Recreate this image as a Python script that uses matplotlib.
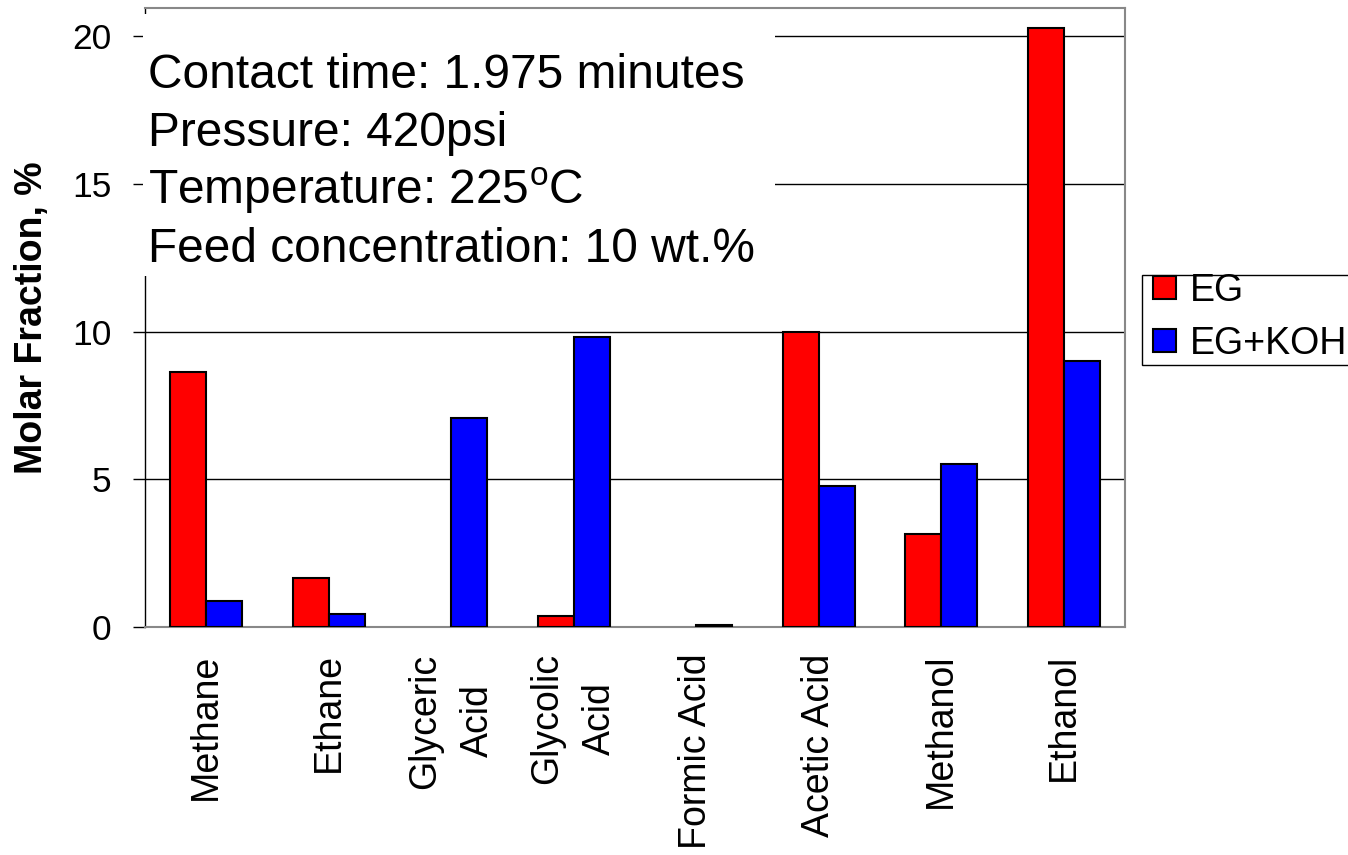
import matplotlib
matplotlib.use("Agg")
import matplotlib.pyplot as plt
from matplotlib.patches import Rectangle
import numpy as np

plt.rcParams['font.family'] = ['Liberation Sans', 'DejaVu Sans']
plt.rcParams['mathtext.fontset'] = 'custom'
plt.rcParams['mathtext.rm'] = 'Liberation Sans'
plt.rcParams['mathtext.it'] = 'Liberation Sans'

categories = ["Methane", "Ethane", "Glyceric\nAcid", "Glycolic\nAcid", "Formic Acid",
              "Acetic Acid", "Methanol", "Ethanol"]
eg = [8.63, 1.66, 0.0, 0.37, 0.0, 9.98, 3.15, 20.27]
eg_koh = [0.88, 0.44, 7.07, 9.81, 0.08, 4.77, 5.5, 9.0]
series_names = ["EG", "EG+KOH"]
yticks = [0, 5, 10, 15, 20]
info_lines = ["Contact time: 1.975 minutes", "Pressure: 420psi",
              "Temperature: 225$^{\\mathrm{o}}$C", "Feed concentration: 10 wt.%"]

fig = plt.figure(figsize=(13.48, 8.55), dpi=100)
ax = fig.add_axes([145/1348, 1-627/855, (1125-145)/1348, (627-8)/855])

x = np.arange(len(categories))
w = 0.295
b1 = ax.bar(x - w/2, eg, w, color='#ff0000', edgecolor='black',
            linewidth=[1.5 if v > 0 else 0 for v in eg],
            label=series_names[0], zorder=3)
b2 = ax.bar(x + w/2, eg_koh, w, color='#0000ff', edgecolor='black',
            linewidth=[1.5 if v > 0 else 0 for v in eg_koh],
            label=series_names[1], zorder=3)

ax.set_xlim(-0.5, len(categories) - 0.5)
ax.set_ylim(0, 20.95)
ax.set_yticks(yticks)
ax.set_yticklabels([str(t) for t in yticks], fontsize=25.5)
ax.yaxis.grid(True, color='black', linewidth=1.0, zorder=0)
ax.set_axisbelow(True)
ax.tick_params(axis='y', direction='out', length=8.5, width=1, pad=15.5, colors='black')
ax.set_xticks(x)
ax.set_xticklabels(categories, rotation=90, fontsize=27, va='top', ha='center',
                   multialignment='center', linespacing=1.6)
ax.tick_params(axis='x', length=0, pad=19)
for s in ['top', 'right', 'bottom']:
    ax.spines[s].set_color('#888888')
    ax.spines[s].set_linewidth(1.5)
ax.spines['left'].set_color('black')
ax.spines['left'].set_linewidth(1.0)

ax.set_ylabel("Molar Fraction, %", fontsize=27, fontweight='bold', labelpad=16)

# info box
rect = Rectangle((143/1348, 1-276/855), (775-143)/1348, (276-14)/855,
                 transform=fig.transFigure, facecolor='white', edgecolor='none', zorder=5)
fig.patches.append(rect)
baselines = [88, 146, 204, 262]
for line, yb in zip(info_lines, baselines):
    fig.text(148/1348, 1-yb/855, line, fontsize=34.5, va='baseline', ha='left', zorder=6)

# legend frame (extends past the right edge of the image, as in the reference)
legframe = Rectangle((1142/1348, 1-365/855), (1400-1142)/1348, (365-275)/855,
                     transform=fig.transFigure, facecolor='white', edgecolor='black',
                     linewidth=1.0, zorder=5)
fig.patches.append(legframe)
leg = fig.legend(handles=[b1, b2], labels=series_names, loc='upper left',
                 bbox_to_anchor=(1153/1348, 1-273/855), fontsize=27, frameon=False,
                 handlelength=0.62, handleheight=0.55,
                 handletextpad=0.37, borderpad=0.0, labelspacing=0.44, borderaxespad=0)
leg.set_zorder(6)

fig.savefig("out.png", dpi=100)
